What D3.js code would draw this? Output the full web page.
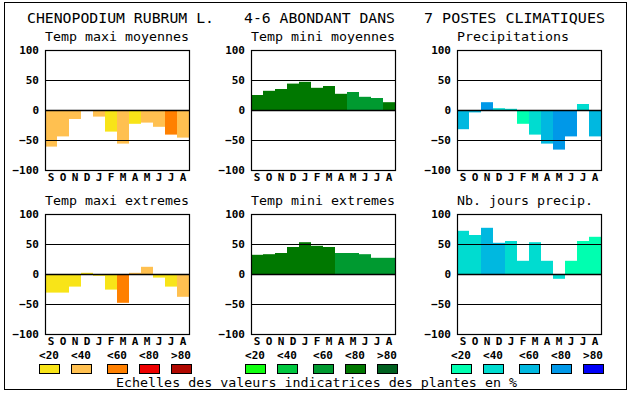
<!DOCTYPE html>
<html><head><meta charset="utf-8">
<script src="https://cdn.jsdelivr.net/npm/d3@7"></script>
<style>
html,body{margin:0;padding:0;background:#fff;}
svg{display:block;}
text{font-family:"DejaVu Sans Mono","Liberation Mono",monospace;}
</style></head>
<body>
<svg id="chart" width="630" height="394"></svg>
<script>
const months = ["S","O","N","D","J","F","M","A","M","J","J","A"];
const yTicks = [-100,-50,0,50,100];
const titleParts = ["CHENOPODIUM RUBRUM L.","4-6 ABONDANT DANS","7 POSTES CLIMATIQUES"];
const panelTitles = ["Temp maxi moyennes","Temp mini moyennes","Precipitations","Temp maxi extremes","Temp mini extremes","Nb. jours precip."];
const legendLabels = ["<20","<40","<60","<80",">80"];
const footer = "Echelles des valeurs indicatrices des plantes en %";

const paletteWarm  = ["#F8E418","#FFC050","#FF8000","#EE0000","#B00800"];
const paletteGreen = ["#10FF10","#00C840","#009A30","#007800","#006020"];
const paletteBlue  = ["#00FFB0","#00DCD0","#00B8E0","#0098E8","#0000F8"];

// values per panel
const tmaxMoy = [-61,-44,-15,0,-11,-36,-56,-23,-21,-28,-41,-46];
const tminMoy = [25,32,35,44,47,37,40,27,30,22,20,13];
const precip  = [-32,-4,13,3,2,-23,-41,-56,-66,-44,10,-44];
const tmaxExt = [-31,-31,-21,2,-3,-26,-48,2,12,-6,-21,-38];
const tminExt = [32,33,35,45,53,47,45,35,35,33,27,27];
const nbJours = [72,65,77,52,55,22,53,22,-8,22,55,62];
// indicator class (0:<20 ... 4:>80) per bar
const tmaxMoyCls = [1,1,1,1,1,0,1,0,1,1,2,1];
const tminMoyCls = [3,3,3,3,3,3,3,3,2,2,2,3];
const precipCls  = [2,2,3,1,1,0,1,2,3,3,1,2];
const tmaxExtCls = [0,0,0,0,0,0,2,1,1,0,0,1];
const tminExtCls = [3,3,3,3,3,3,3,2,2,2,2,2];
const nbJoursCls = [1,1,2,2,1,1,1,1,1,0,0,0];

const panels = [
  {vals:tmaxMoy, cls:tmaxMoyCls, pal:paletteWarm},
  {vals:tminMoy, cls:tminMoyCls, pal:paletteGreen},
  {vals:precip,  cls:precipCls,  pal:paletteBlue},
  {vals:tmaxExt, cls:tmaxExtCls, pal:paletteWarm},
  {vals:tminExt, cls:tminExtCls, pal:paletteGreen},
  {vals:nbJours, cls:nbJoursCls, pal:paletteBlue}
];

const svg = d3.select("#chart");
// outer frame
svg.append("rect").attr("x",4.5).attr("y",2.5).attr("width",622).attr("height",387)
  .attr("fill","none").attr("stroke","#000").attr("stroke-width",1);

// main title
const titleX = [27,244,424], titleW = [187,151,181];
titleParts.forEach((t,i)=>{
  svg.append("text").attr("x",titleX[i]).attr("y",23).attr("font-size",14)
    .attr("textLength",titleW[i]).attr("lengthAdjust","spacingAndGlyphs")
    .attr("fill","#000").text(t);
});

const lefts = [45,251,457], tops = [50,214];
const W = 144, H = 120;

panels.forEach((p,i)=>{
  const left = lefts[i%3], top = tops[Math.floor(i/3)];
  const g = svg.append("g").attr("transform",`translate(${left},${top})`);
  const x = d3.scaleBand().domain(d3.range(12)).range([0,W]).padding(0);
  const y = d3.scaleLinear().domain([-100,100]).range([H,0]);
  g.selectAll("rect.bar").data(p.vals).join("rect").attr("class","bar")
    .attr("x",(d,j)=>x(j)).attr("width",x.bandwidth())
    .attr("y",d=>y(Math.max(0,d))).attr("height",d=>Math.abs(y(d)-y(0)))
    .attr("fill",(d,j)=>p.pal[p.cls[j]]);
  // grid lines
  g.selectAll("line.grid").data([-50,0,50]).join("line").attr("class","grid")
    .attr("x1",0).attr("x2",W).attr("y1",d=>Math.round(y(d))+0.5).attr("y2",d=>Math.round(y(d))+0.5)
    .attr("stroke","#000").attr("stroke-width",d=>d===0?1.6:1.2);
  g.append("rect").attr("x",0.5).attr("y",0.5).attr("width",W).attr("height",H)
    .attr("fill","none").attr("stroke","#000").attr("stroke-width",1.2);
  // y axis
  const ya = g.append("g").call(d3.axisLeft(y).tickValues(yTicks).tickSize(0).tickPadding(6).tickFormat(d3.format("d")));
  ya.select(".domain").remove();
  ya.selectAll("text").attr("font-family","'DejaVu Sans Mono',monospace").attr("font-size",11).attr("font-weight","bold").attr("fill","#000");
  // x axis
  const xa = g.append("g").attr("transform",`translate(0,${H})`)
    .call(d3.axisBottom(x).tickSize(0).tickPadding(3).tickFormat(j=>months[j]));
  xa.select(".domain").remove();
  xa.selectAll("text").attr("font-family","'DejaVu Sans Mono',monospace").attr("font-size",11).attr("font-weight","bold").attr("fill","#000");
  // panel title
  svg.append("text").attr("x",left).attr("y",top-9).attr("font-size",13)
    .attr("textLength",panelTitles[i].length*8).attr("lengthAdjust","spacingAndGlyphs").attr("fill","#000").text(panelTitles[i]);
});

// legends
const legOffsets = [0,32,68,100,132];
[paletteWarm,paletteGreen,paletteBlue].forEach((pal,k)=>{
  const lx = lefts[k]-6;
  legendLabels.forEach((lab,j)=>{
    svg.append("text").attr("x",lx+legOffsets[j]+10).attr("y",359).attr("text-anchor","middle")
      .attr("font-size",11).attr("font-weight","bold").attr("fill","#000").text(lab);
    svg.append("rect").attr("x",lx+legOffsets[j]+0.5).attr("y",364.5).attr("width",20).attr("height",9)
      .attr("fill",pal[j]).attr("stroke","#000").attr("stroke-width",1);
  });
});

svg.append("text").attr("x",116).attr("y",387).attr("font-size",13)
  .attr("textLength",401).attr("lengthAdjust","spacingAndGlyphs").attr("fill","#000").text(footer);
</script>
</body></html>
